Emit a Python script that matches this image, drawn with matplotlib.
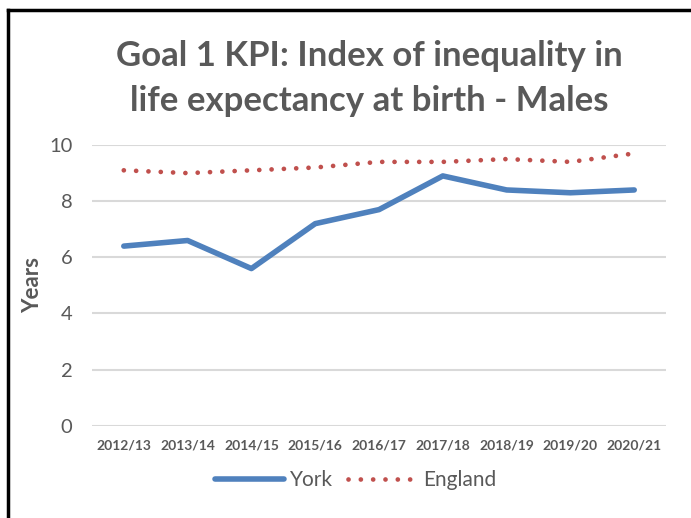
import matplotlib.pyplot as plt
from matplotlib.lines import Line2D

years = ['2012/13', '2013/14', '2014/15', '2015/16', '2016/17',
         '2017/18', '2018/19', '2019/20', '2020/21']
york = [6.4, 6.6, 5.6, 7.2, 7.7, 8.9, 8.4, 8.3, 8.4]
england = [9.1, 9.0, 9.1, 9.2, 9.4, 9.4, 9.5, 9.4, 9.7]

grey = '#595959'
plt.rcParams['font.family'] = ['Lato', 'DejaVu Sans']

fig = plt.figure(figsize=(6.91, 5.18), dpi=100)
ax = fig.add_axes([0.133, 0.178, 0.831, 0.542])

x = range(len(years))
ax.plot(x, york, color='#4F81BD', lw=4.0, solid_capstyle='round',
        solid_joinstyle='round', label='York')
ax.plot(x, england, color='#C0504D', lw=3.4, linestyle=(0, (0.01, 2.6)),
        dash_capstyle='round', label='England')

ax.set_xlim(-0.5, len(years) - 0.5)
ax.set_ylim(0, 10)
ax.set_yticks(range(0, 11, 2))
ax.set_xticks(list(x))
ax.set_xticklabels(years, fontsize=10, fontweight='bold', color=grey)
ax.tick_params(axis='y', labelsize=14.5, labelcolor=grey, length=0, pad=14)
ax.tick_params(axis='x', length=0, pad=10)
ax.grid(axis='y', color='#D9D9D9', lw=1.5)
ax.set_axisbelow(True)
for s in ax.spines.values():
    s.set_visible(False)

ax.set_ylabel('Years', fontsize=16, fontweight='bold', color=grey, labelpad=4)

fig.text(0.534, 0.848, 'Goal 1 KPI: Index of inequality in\nlife expectancy at birth - Males',
         ha='center', va='center', fontsize=25, fontweight='bold', color=grey,
         linespacing=1.5)

fig.legend(loc='center', bbox_to_anchor=(0.515, 0.073), ncol=2, frameon=False,
           fontsize=15, labelcolor=grey, handlelength=3.3, columnspacing=0.7,
           handletextpad=0.3)

# outer frame (top and left edges only)
fig.add_artist(Line2D([0.012, 1.0], [0.981, 0.981], color='black', lw=2.5))
fig.add_artist(Line2D([0.012, 0.012], [0.0, 0.981], color='black', lw=2.5))

fig.savefig('out.png', dpi=100)
